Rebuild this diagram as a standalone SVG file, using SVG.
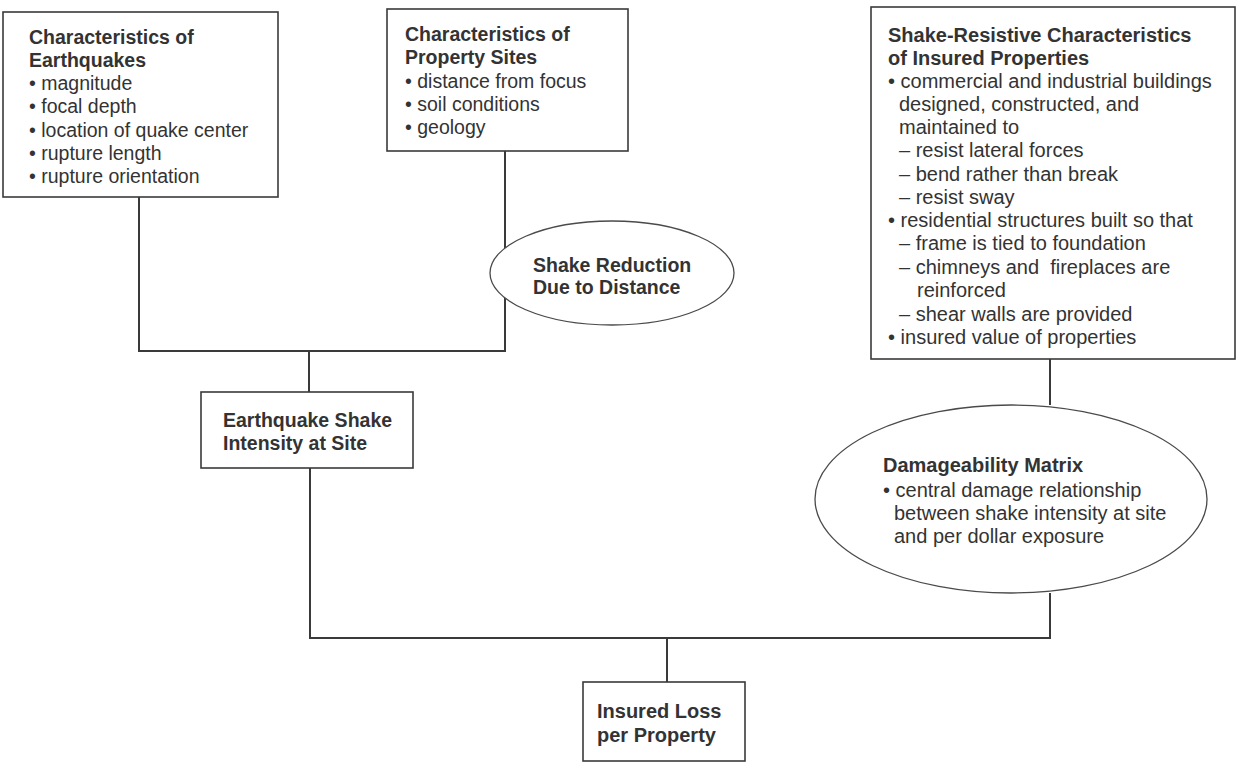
<svg xmlns="http://www.w3.org/2000/svg" width="1241" height="763" viewBox="0 0 1241 763">
<style>
.box{fill:#fff;stroke:#3a3a3a;stroke-width:1.6}
.ell{fill:#fff;stroke:#4a4a4a;stroke-width:1.3}
.conn{fill:none;stroke:#3a3a3a;stroke-width:2}
text{font-family:"Liberation Sans",Arial,Helvetica,sans-serif;font-size:19.5px;fill:#333}
.l{font-size:20px}
.b{font-weight:bold}
</style>
<rect width="1241" height="763" fill="#fff"/>
<g id="connectors">
<path class="conn" d="M139,197 V351 H505 V151"/>
<path class="conn" d="M309,351 V392"/>
<path class="conn" d="M310,468 V638 H1050 V593"/>
<path class="conn" d="M667,638 V682"/>
<path class="conn" d="M1050,359 V405"/>
</g>
<g id="earthquakes">
<rect class="box" x="3" y="12" width="275" height="185"/>
<text class="b" x="29" y="44">Characteristics of</text>
<text class="b" x="29" y="67">Earthquakes</text>
<text x="29" y="90">• magnitude</text>
<text x="29" y="113">• focal depth</text>
<text x="29" y="137">• location of quake center</text>
<text x="29" y="160">• rupture length</text>
<text x="29" y="183">• rupture orientation</text>
</g>
<g id="sites">
<rect class="box" x="387" y="9" width="241" height="142"/>
<text class="b" x="405" y="41">Characteristics of</text>
<text class="b" x="405" y="64">Property Sites</text>
<text x="405" y="88">• distance from focus</text>
<text x="405" y="111">• soil conditions</text>
<text x="405" y="134">• geology</text>
</g>
<g id="resistive">
<rect class="box" x="871" y="7" width="364" height="352"/>
<text class="b l" x="888" y="42">Shake-Resistive Characteristics</text>
<text class="b l" x="888" y="65">of Insured Properties</text>
<text class="l" x="888" y="88">• commercial and industrial buildings</text>
<text class="l" x="899" y="111">designed, constructed, and</text>
<text class="l" x="899" y="134">maintained to</text>
<text class="l" x="899" y="157">– resist lateral forces</text>
<text class="l" x="899" y="181">– bend rather than break</text>
<text class="l" x="899" y="204">– resist sway</text>
<text class="l" x="888" y="227">• residential structures built so that</text>
<text class="l" x="899" y="250">– frame is tied to foundation</text>
<text class="l" x="899" y="274" xml:space="preserve">– chimneys and  fireplaces are</text>
<text class="l" x="917" y="297">reinforced</text>
<text class="l" x="899" y="321">– shear walls are provided</text>
<text class="l" x="888" y="344">• insured value of properties</text>
</g>
<g id="reduction">
<ellipse class="ell" cx="612" cy="273" rx="122" ry="52"/>
<text class="b" x="533" y="272">Shake Reduction</text>
<text class="b" x="533" y="294">Due to Distance</text>
</g>
<g id="intensity">
<rect class="box" x="201" y="392" width="212" height="76"/>
<text class="b" x="223" y="427">Earthquake Shake</text>
<text class="b" x="223" y="450">Intensity at Site</text>
</g>
<g id="matrix">
<ellipse class="ell" cx="1011" cy="499" rx="196" ry="94"/>
<text class="b l" x="883" y="472">Damageability Matrix</text>
<text class="l" x="883" y="497">• central damage relationship</text>
<text class="l" x="894" y="520">between shake intensity at site</text>
<text class="l" x="894" y="543">and per dollar exposure</text>
</g>
<g id="loss">
<rect class="box" x="583" y="682" width="162" height="79"/>
<text class="b l" x="597" y="718">Insured Loss</text>
<text class="b l" x="597" y="742">per Property</text>
</g>
</svg>
